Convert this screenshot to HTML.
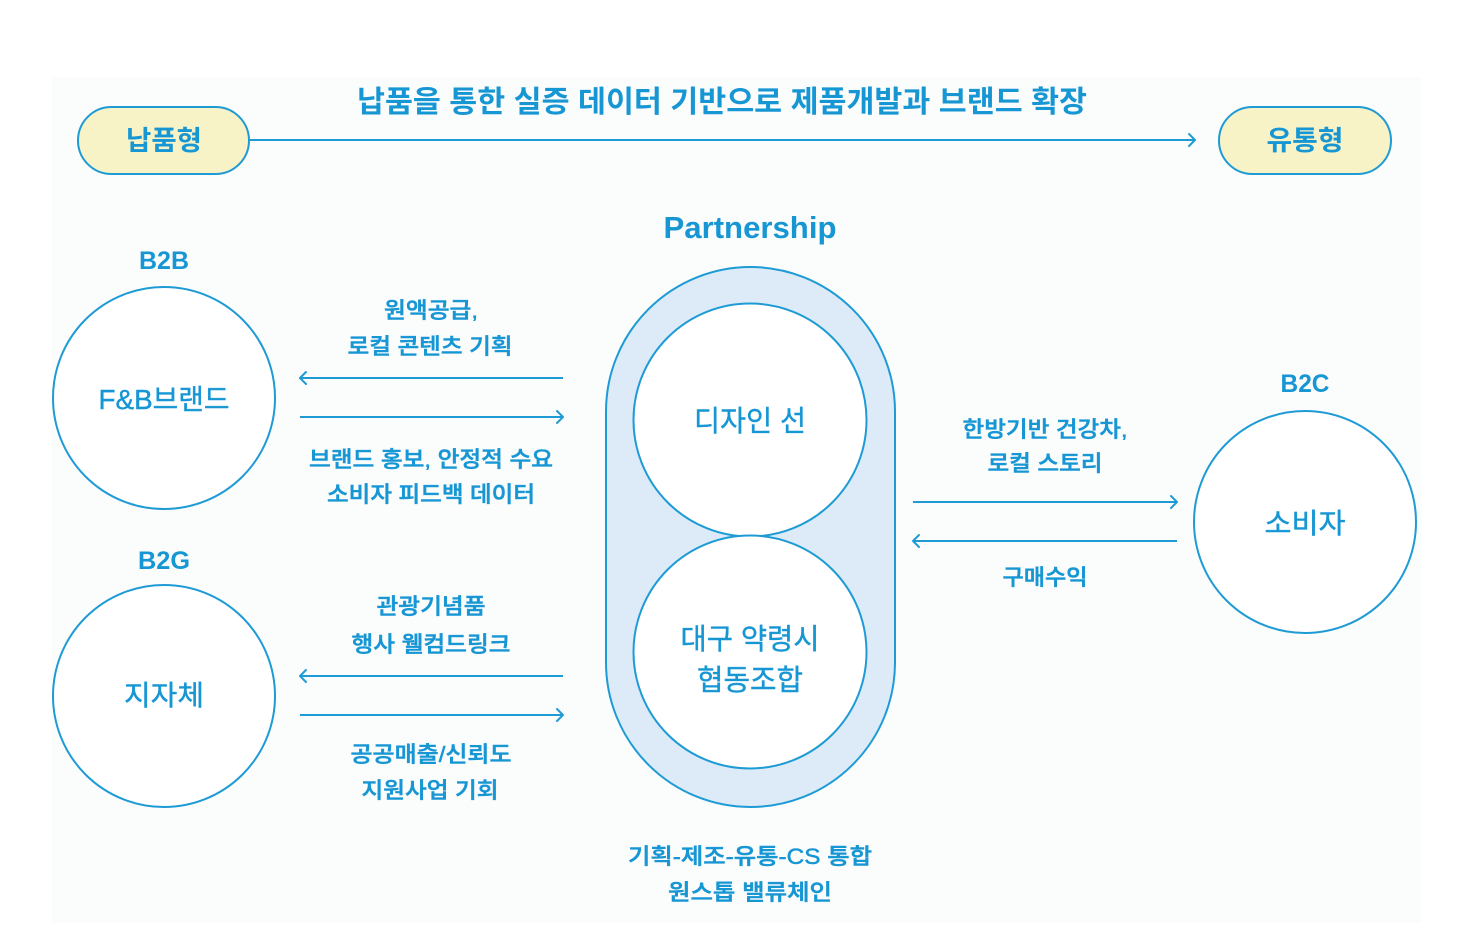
<!DOCTYPE html>
<html><head><meta charset="utf-8"><style>
html,body{margin:0;padding:0;background:#fff;}
svg{display:block;}
text{font-family:"Liberation Sans","Noto Sans CJK KR","NanumGothic",sans-serif;fill:#1796d4;}
.b{font-weight:bold;}
.m{font-weight:500;stroke:#1796d4;stroke-width:0.5px;}
.c{stroke:#1796d4;stroke-width:0.4px;}
</style></head><body>
<svg width="1468" height="952" viewBox="0 0 1468 952" xmlns="http://www.w3.org/2000/svg">
<rect x="0" y="0" width="1468" height="952" fill="#ffffff"/>
<rect x="52" y="77" width="1370" height="846" fill="#fbfcfc"/>

<g fill="none" stroke="#1e9bd5" stroke-width="2">
  <!-- top pills -->
  <rect x="78" y="107" width="171" height="67" rx="33.5" fill="#f8f3c7"/>
  <rect x="1219" y="107" width="172" height="67" rx="33.5" fill="#f8f3c7"/>
  <line x1="249" y1="140" x2="1195" y2="140"/>
  <polyline points="1189,134 1195,140 1189,146" stroke-linecap="round" stroke-linejoin="round"/>

  <!-- capsule -->
  <rect x="606" y="267" width="289" height="540" rx="144.5" fill="#dcebf7"/>
  <circle cx="750" cy="420" r="116.5" fill="#ffffff"/>
  <circle cx="750" cy="652" r="116.5" fill="#ffffff"/>

  <!-- side circles -->
  <circle cx="164" cy="398" r="111" fill="#ffffff"/>
  <circle cx="164" cy="696" r="111" fill="#ffffff"/>
  <circle cx="1305" cy="522" r="111" fill="#ffffff"/>

  <!-- B2B arrows -->
  <line x1="300" y1="378" x2="563" y2="378"/>
  <polyline points="306,372 300,378 306,384" stroke-linecap="round" stroke-linejoin="round"/>
  <line x1="300" y1="417" x2="563" y2="417"/>
  <polyline points="557,411 563,417 557,423" stroke-linecap="round" stroke-linejoin="round"/>

  <!-- B2G arrows -->
  <line x1="300" y1="676" x2="563" y2="676"/>
  <polyline points="306,670 300,676 306,682" stroke-linecap="round" stroke-linejoin="round"/>
  <line x1="300" y1="715" x2="563" y2="715"/>
  <polyline points="557,709 563,715 557,721" stroke-linecap="round" stroke-linejoin="round"/>

  <!-- B2C arrows -->
  <line x1="913" y1="502" x2="1177" y2="502"/>
  <polyline points="1171,496 1177,502 1171,508" stroke-linecap="round" stroke-linejoin="round"/>
  <line x1="913" y1="541" x2="1177" y2="541"/>
  <polyline points="919,535 913,541 919,547" stroke-linecap="round" stroke-linejoin="round"/>
</g>

<!-- titles -->
<text class="b" x="722" y="112" font-size="30" text-anchor="middle" textLength="730" lengthAdjust="spacingAndGlyphs">납품을 통한 실증 데이터 기반으로 제품개발과 브랜드 확장</text>
<text class="b" x="164" y="150" font-size="27" text-anchor="middle" textLength="76" lengthAdjust="spacingAndGlyphs">납품형</text>
<text class="b" x="1305" y="150" font-size="27" text-anchor="middle" textLength="77" lengthAdjust="spacingAndGlyphs">유통형</text>
<text class="b" x="750" y="238" font-size="31" text-anchor="middle" textLength="173" lengthAdjust="spacingAndGlyphs">Partnership</text>

<text class="b" x="164" y="269" font-size="25" text-anchor="middle" textLength="50" lengthAdjust="spacingAndGlyphs">B2B</text>
<text class="b" x="164" y="569" font-size="25" text-anchor="middle" textLength="52" lengthAdjust="spacingAndGlyphs">B2G</text>
<text class="b" x="1305" y="392" font-size="25" text-anchor="middle" textLength="49" lengthAdjust="spacingAndGlyphs">B2C</text>

<!-- circle labels -->
<text class="c" x="164" y="409" font-size="28" text-anchor="middle" textLength="131" lengthAdjust="spacingAndGlyphs">F&amp;B브랜드</text>
<text class="c" x="164" y="705" font-size="28" text-anchor="middle" textLength="80" lengthAdjust="spacingAndGlyphs">지자체</text>
<text class="c" x="1305" y="533" font-size="28" text-anchor="middle" textLength="81" lengthAdjust="spacingAndGlyphs">소비자</text>
<text class="c" x="750" y="431" font-size="29" text-anchor="middle" textLength="112" lengthAdjust="spacingAndGlyphs">디자인 선</text>
<text class="c" x="750" y="649" font-size="29" text-anchor="middle" textLength="139" lengthAdjust="spacingAndGlyphs">대구 약령시</text>
<text class="c" x="750" y="690" font-size="29" text-anchor="middle" textLength="106" lengthAdjust="spacingAndGlyphs">협동조합</text>

<!-- connector labels -->
<text class="m" x="431" y="318" font-size="22" text-anchor="middle" textLength="94" lengthAdjust="spacingAndGlyphs">원액공급,</text>
<text class="m" x="430" y="354" font-size="22" text-anchor="middle" textLength="165" lengthAdjust="spacingAndGlyphs">로컬 콘텐츠 기획</text>
<text class="m" x="431" y="467" font-size="22" text-anchor="middle" textLength="244" lengthAdjust="spacingAndGlyphs">브랜드 홍보, 안정적 수요</text>
<text class="m" x="431" y="502" font-size="22" text-anchor="middle" textLength="208" lengthAdjust="spacingAndGlyphs">소비자 피드백 데이터</text>

<text class="m" x="431" y="614" font-size="22" text-anchor="middle" textLength="109" lengthAdjust="spacingAndGlyphs">관광기념품</text>
<text class="m" x="431" y="652" font-size="22" text-anchor="middle" textLength="159" lengthAdjust="spacingAndGlyphs">행사 웰컴드링크</text>
<text class="m" x="431" y="762" font-size="22" text-anchor="middle" textLength="161" lengthAdjust="spacingAndGlyphs">공공매출/신뢰도</text>
<text class="m" x="430" y="798" font-size="22" text-anchor="middle" textLength="137" lengthAdjust="spacingAndGlyphs">지원사업 기회</text>

<text class="m" x="1045" y="437" font-size="22" text-anchor="middle" textLength="165" lengthAdjust="spacingAndGlyphs">한방기반 건강차,</text>
<text class="m" x="1045" y="471" font-size="22" text-anchor="middle" textLength="115" lengthAdjust="spacingAndGlyphs">로컬 스토리</text>
<text class="m" x="1045" y="585" font-size="22" text-anchor="middle" textLength="85" lengthAdjust="spacingAndGlyphs">구매수익</text>

<text class="m" x="750" y="864" font-size="22" text-anchor="middle" textLength="244" lengthAdjust="spacingAndGlyphs">기획-제조-유통-CS 통합</text>
<text class="m" x="750" y="900" font-size="22" text-anchor="middle" textLength="164" lengthAdjust="spacingAndGlyphs">원스톱 밸류체인</text>
</svg>
</body></html>
